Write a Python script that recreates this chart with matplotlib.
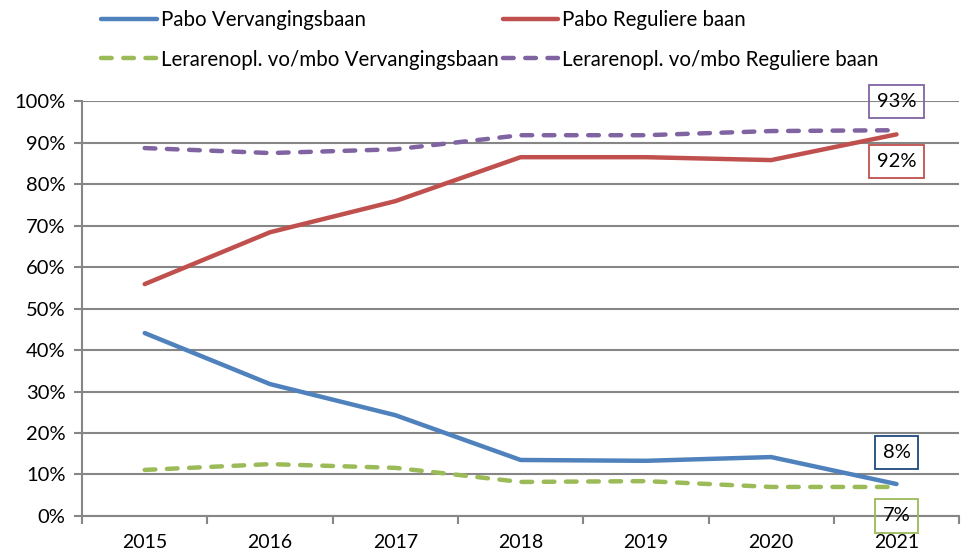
import numpy as np
import matplotlib.pyplot as plt
from matplotlib.lines import Line2D

years = ["2015", "2016", "2017", "2018", "2019", "2020", "2021"]

pabo_verv = [44.1, 31.8, 24.3, 13.5, 13.3, 14.2, 7.7]
pabo_reg = [55.9, 68.4, 75.9, 86.5, 86.5, 85.8, 92.0]
lero_verv = [11.1, 12.5, 11.6, 8.2, 8.4, 7.0, 7.0]
lero_reg = [88.7, 87.5, 88.4, 91.8, 91.8, 92.8, 93.0]

names = ["Pabo Vervangingsbaan", "Pabo Reguliere baan",
         "Lerarenopl. vo/mbo Vervangingsbaan", "Lerarenopl. vo/mbo Reguliere baan"]
colors = ["#4F81BD", "#C0504D", "#9BBB59", "#8064A2"]

plt.rcParams["font.family"] = ["Lato", "DejaVu Sans"]

fig = plt.figure(figsize=(9.63, 5.56), dpi=100)
ax = fig.add_axes([0.0852, 0.072, 0.9108, 0.746])

x = np.arange(len(years))
series = [pabo_verv, pabo_reg, lero_verv, lero_reg]
styles = ["-", "-", (0, (2.4, 2.6)), (0, (2.4, 2.6))]

for vals, c, ls, name in zip(series, colors, styles, names):
    ax.plot(x, vals, color=c, lw=3.2, linestyle=ls, label=name,
            solid_capstyle="round", dash_capstyle="round",
            solid_joinstyle="round", zorder=3)

ax.set_xlim(-0.5, len(years) - 0.5)
ax.set_ylim(0, 100)
ax.set_yticks(np.arange(0, 101, 10))
ax.set_yticklabels([f"{v}%" for v in range(0, 101, 10)])
ax.set_xticks(x)
ax.set_xticklabels(years)
ax.set_xticks(np.arange(-0.5, len(years), 1), minor=True)
ax.tick_params(axis="x", which="major", length=0, pad=13, labelsize=14)
ax.tick_params(axis="x", which="minor", length=6, width=1.5, color="#868686", direction="out")
ax.tick_params(axis="y", length=6, width=1.5, color="#868686", pad=6, labelsize=14.5)
ax.yaxis.grid(True, color="#868686", lw=1.5, zorder=0)
ax.set_axisbelow(True)
for s in ["top", "right"]:
    ax.spines[s].set_visible(False)
for s in ["left", "bottom"]:
    ax.spines[s].set_color("#868686")
    ax.spines[s].set_linewidth(1.5)

# value boxes for 2021
last = len(years) - 1
labels = [(pabo_verv[last], 7.5, "#1F497D"), (pabo_reg[last], -6.5, "#C0504D"),
          (lero_verv[last], -7.0, "#9BBB59"), (lero_reg[last], 7.0, "#8064A2")]
for v, off, ec in labels:
    ax.text(last, v + off, f"{round(v):.0f}%", ha="center", va="center", fontsize=14.5,
            bbox=dict(boxstyle="square,pad=0.4", fc="none", ec=ec, lw=1.3), zorder=4,
            clip_on=False)

# legend: two rows, filled column by column
order = [0, 2, 1, 3]
handles = [Line2D([], [], color=colors[i], lw=3.2, linestyle=styles[i], dash_capstyle="round",
                  solid_capstyle="round") for i in order]
fig.legend(handles, [names[i] for i in order], ncol=2, loc="upper left",
           bbox_to_anchor=(0.086, 1.015), frameon=False, fontsize=14.8,
           handlelength=2.7, handletextpad=0.2, columnspacing=0.2, labelspacing=0.95)

fig.savefig("out.png", dpi=100)
